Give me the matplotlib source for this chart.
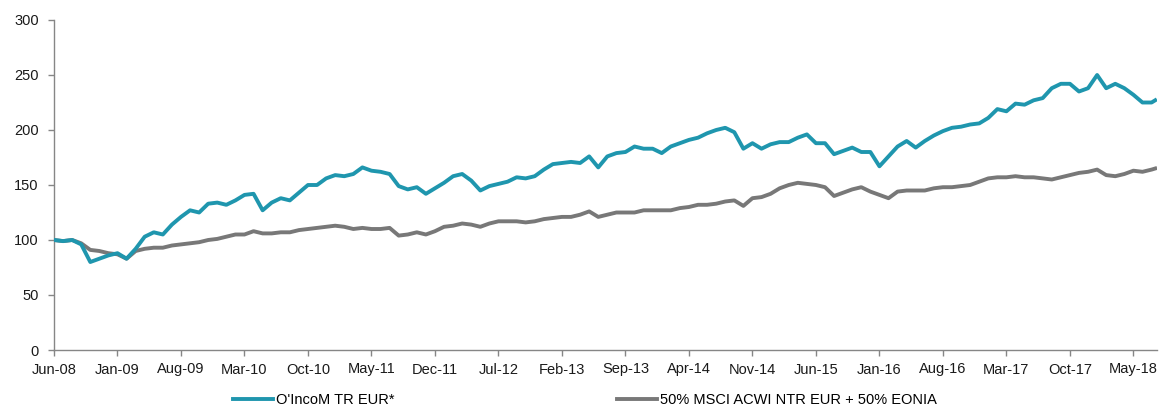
import matplotlib
matplotlib.use("Agg")
import matplotlib.pyplot as plt
import numpy as np

plt.rcParams['font.family'] = ['Liberation Sans', 'DejaVu Sans']

# monthly values, Jun-08 .. Jul-18 (index 0 = Jun-08)
oincom = [100, 99, 100, 96, 80, 83, 86, 88, 83, 92,
          103, 107, 105, 114, 121, 127, 125, 133, 134, 132,
          136, 141, 142, 127, 134, 138, 136, 143, 150, 150,
          156, 159, 158, 160, 166, 163, 162, 160, 149, 146,
          148, 142, 147, 152, 158, 160, 154, 145, 149, 151,
          153, 157, 156, 158, 164, 169, 170, 171, 170, 176,
          166, 176, 179, 180, 185, 183, 183, 179, 185, 188,
          191, 193, 197, 200, 202, 198, 183, 188, 183, 187,
          189, 189, 193, 196, 188, 188, 178, 181, 184, 180,
          180, 167, 176, 185, 190, 184, 190, 195, 199, 202,
          203, 205, 206, 211, 219, 217, 224, 223, 227, 229,
          238, 242, 242, 235, 238, 250, 238, 242, 238, 232,
          225, 225, 227]
benchmark = [100, 99, 100, 97, 91, 90, 88, 87, 83, 90,
             92, 93, 93, 95, 96, 97, 98, 100, 101, 103,
             105, 105, 108, 106, 106, 107, 107, 109, 110, 111,
             112, 113, 112, 110, 111, 110, 110, 111, 104, 105,
             107, 105, 108, 112, 113, 115, 114, 112, 115, 117,
             117, 117, 116, 117, 119, 120, 121, 121, 123, 126,
             121, 123, 125, 125, 125, 127, 127, 127, 127, 129,
             130, 132, 132, 133, 135, 136, 131, 138, 139, 142,
             147, 150, 152, 151, 150, 148, 140, 143, 146, 148,
             144, 141, 138, 144, 145, 145, 145, 147, 148, 148,
             149, 150, 153, 156, 157, 157, 158, 157, 157, 156,
             155, 157, 159, 161, 162, 164, 159, 158, 160, 163,
             162, 164, 165]
months = list(range(122)) + [121.4]

tick_labels = ['Jun-08', 'Jan-09', 'Aug-09', 'Mar-10', 'Oct-10', 'May-11',
               'Dec-11', 'Jul-12', 'Feb-13', 'Sep-13', 'Apr-14', 'Nov-14',
               'Jun-15', 'Jan-16', 'Aug-16', 'Mar-17', 'Oct-17', 'May-18']
tick_pos = np.arange(len(tick_labels)) * 7

fig = plt.figure(figsize=(11.64, 4.09), dpi=100)
ax = fig.add_axes([54 / 1164, 1 - 350 / 409, 1103 / 1164, 330 / 409])

ax.plot(months, oincom, color='#1f96ae', lw=2.8, label="O'IncoM TR EUR*", zorder=3)
ax.plot(months, benchmark, color='#787878', lw=2.8, label='50% MSCI ACWI NTR EUR + 50% EONIA', zorder=2)

ax.set_xlim(0, 121.6)
ax.set_ylim(0, 300)
ax.set_yticks(range(0, 301, 50))
ax.set_xticks(tick_pos)
ax.set_xticklabels(tick_labels)

for side in ['top', 'right']:
    ax.spines[side].set_visible(False)
for side in ['left', 'bottom']:
    ax.spines[side].set_color('#868686')
    ax.spines[side].set_linewidth(1.0)
ax.tick_params(axis='both', colors='#868686', labelcolor='#1a1a1a', labelsize=10.5,
               length=4, width=1.0, direction='out')
ax.tick_params(axis='x', pad=5)
ax.tick_params(axis='y', pad=7)

fig.legend(loc='center', bbox_to_anchor=(585 / 1164, 1 - 400 / 409), ncol=2, frameon=False,
           fontsize=10.5, handlelength=2.75, handletextpad=0.2, columnspacing=15.3,
           borderpad=0, borderaxespad=0)

fig.savefig('out.png', dpi=100)
